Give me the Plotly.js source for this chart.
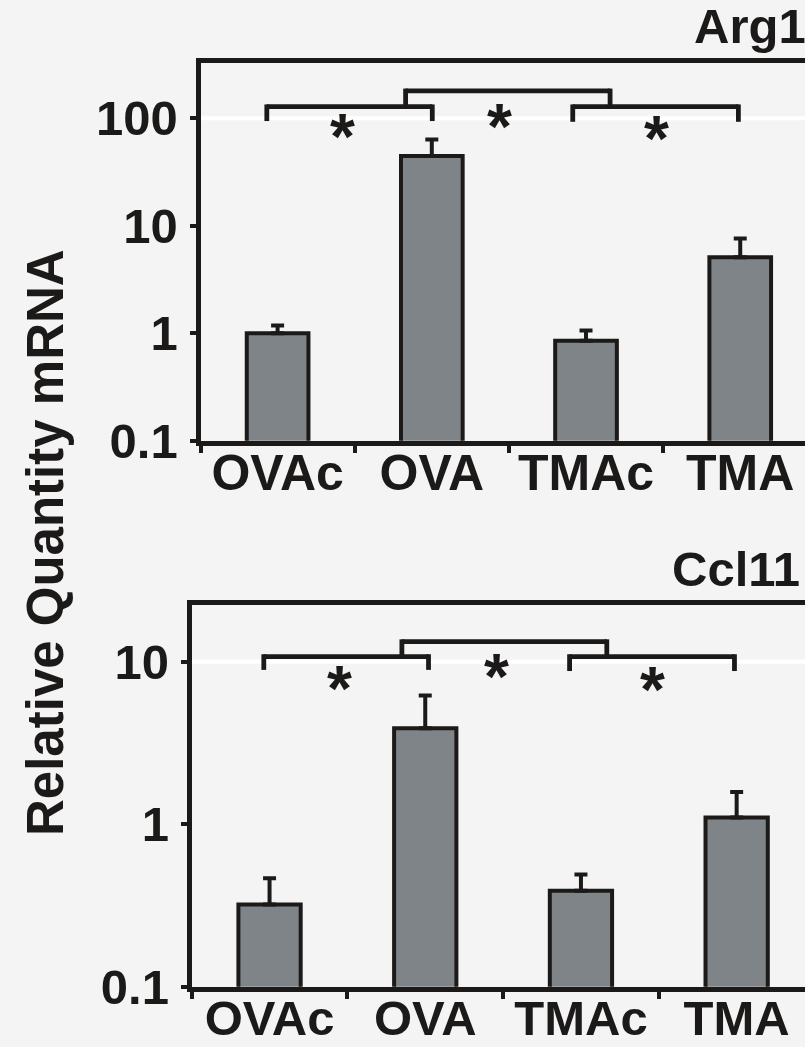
<!DOCTYPE html>
<html>
<head>
<meta charset="utf-8">
<script src="https://cdn.plot.ly/plotly-3.0.1.min.js"></script>
<style>
  html, body { margin: 0; padding: 0; background: #f4f4f4; overflow: hidden; }
  #chart { width: 805px; height: 1047px; }
</style>
</head>
<body>
<div id="chart"></div>
<script>
// ---- data ----
const categories = ["OVAc", "OVA", "TMAc", "TMA"];

const arg1Title = "Arg1";
const arg1Values = [1.0, 44.5, 0.85, 5.1];
const arg1Errors = [0.18, 19, 0.21, 2.5];
const arg1TickVals = [0.1, 1, 10, 100];
const arg1TickText = ["0.1", "1", "10", "100"];

const ccl11Title = "Ccl11";
const ccl11Values = [0.32, 3.9, 0.39, 1.1];
const ccl11Errors = [0.145, 2.3, 0.10, 0.48];
const ccl11TickVals = [0.1, 1, 10];
const ccl11TickText = ["0.1", "1", "10"];

const yTitle = "Relative Quantity mRNA";
const sigMark = "*";

// ---- style ----
const W = 805, H = 1047;
const INK = "#1c1a19";
const BAR = "#7e8487";
const BG = "#f4f4f4";
const FONT = "Liberation Sans, Arial, sans-serif";

function barTrace(vals, errs, xa, ya) {
  return {
    type: "bar",
    x: categories,
    y: vals,
    xaxis: xa, yaxis: ya,
    width: 0.4,
    marker: { color: BAR, line: { color: INK, width: 4 } },
    error_y: {
      type: "data", symmetric: false,
      array: errs, arrayminus: errs.map(() => 0),
      color: INK, thickness: 4, width: 6.5
    },
    hoverinfo: "skip",
    showlegend: false
  };
}

const data = [
  barTrace(arg1Values, arg1Errors, "x", "y"),
  barTrace(ccl11Values, ccl11Errors, "x2", "y2")
];

function xAxis(domainLeftPx, rangeMax, anchor, standoff, fsize) {
  return {
    domain: [domainLeftPx / W, 1],
    anchor: anchor,
    type: "category",
    range: [-0.5, rangeMax],
    showline: true, linecolor: INK, linewidth: 5, mirror: true,
    ticks: "outside", tickson: "boundaries", ticklen: 7, tickwidth: 4, tickcolor: INK,
    ticklabelstandoff: standoff,
    tickfont: { family: FONT, size: fsize, color: INK, weight: "bold" },
    showgrid: false, zeroline: false, fixedrange: true
  };
}
function yAxis(topPx, bottomPx, logMax, tv, tt, anchor) {
  return {
    domain: [(H - bottomPx) / H, (H - topPx) / H],
    anchor: anchor,
    type: "log",
    range: [-1, logMax],
    tickvals: tv, ticktext: tt,
    showline: true, linecolor: INK, linewidth: 5,
    ticks: "outside", ticklen: 6, tickwidth: 4, tickcolor: INK,
    ticklabelstandoff: 2,
    tickfont: { family: FONT, size: 49, color: INK, weight: "bold" },
    showgrid: false, zeroline: false, fixedrange: true
  };
}

// bracket helper: x positions in category units, y in axis-domain fraction
function bracket(xa, ya, x0, x1, yh, yl, lw) {
  const xr = xa, yr = ya + " domain";
  const ext = 0.006;
  const line = { color: INK, width: lw };
  const s = [];
  s.push({ type: "line", xref: xr, yref: yr, x0: x0, x1: x1, y0: yh, y1: yh, line: line, layer: "above" });
  s.push({ type: "line", xref: xr, yref: yr, x0: x0, x1: x0, y0: yh + ext, y1: yl, line: line, layer: "above" });
  s.push({ type: "line", xref: xr, yref: yr, x0: x1, x1: x1, y0: yh + ext, y1: yl, line: line, layer: "above" });
  return s;
}

const shapes = [
  // white reference lines at the top tick
  { type: "line", xref: "x domain", yref: "y", x0: 0, x1: 1, y0: 100, y1: 100, line: { color: "#ffffff", width: 4 }, layer: "below" },
  { type: "line", xref: "x2 domain", yref: "y2", x0: 0, x1: 1, y0: 10, y1: 10, line: { color: "#ffffff", width: 4 }, layer: "below" },
  // top panel brackets
  ...bracket("x", "y", -0.07, 1.003, 0.885, 0.847, 4.8),
  ...bracket("x", "y", 1.914, 2.988, 0.885, 0.845, 4.8),
  ...bracket("x", "y", 0.83, 2.156, 0.927, 0.885, 4.8),
  // bottom panel brackets
  ...bracket("x2", "y2", -0.037, 1.021, 0.865, 0.830, 4.8),
  ...bracket("x2", "y2", 1.927, 2.986, 0.865, 0.827, 4.8),
  ...bracket("x2", "y2", 0.85, 2.166, 0.904, 0.865, 4.8)
];

function star(xa, ya, x, y) {
  return {
    xref: xa, yref: ya + " domain", x: x, y: y,
    text: sigMark, showarrow: false,
    xanchor: "center", yanchor: "middle", yshift: -10,
    font: { family: FONT, size: 64, color: INK, weight: "bold" }
  };
}

const annotations = [
  star("x", "y", 0.42, 0.830),
  star("x", "y", 1.436, 0.858),
  star("x", "y", 2.458, 0.826),
  star("x2", "y2", 0.45, 0.805),
  star("x2", "y2", 1.456, 0.838),
  star("x2", "y2", 2.462, 0.804),
  {
    xref: "paper", yref: "paper", x: 1, y: (H - 26) / H,
    xanchor: "right", yanchor: "middle", xshift: 3, showarrow: false,
    text: arg1Title,
    font: { family: FONT, size: 49, color: INK, weight: "bold" }
  },
  {
    xref: "paper", yref: "paper", x: 1, y: (H - 569) / H,
    xanchor: "right", yanchor: "middle", xshift: -3, showarrow: false,
    text: ccl11Title,
    font: { family: FONT, size: 49, color: INK, weight: "bold" }
  },
  {
    xref: "paper", yref: "paper", x: 45 / W, y: (H - 543) / H,
    xanchor: "center", yanchor: "middle", textangle: -90, showarrow: false,
    text: yTitle,
    font: { family: FONT, size: 51, color: INK, weight: "bold" }
  }
];

const layout = {
  width: W, height: H,
  margin: { l: 0, r: 0, t: 0, b: 0, pad: 0 },
  paper_bgcolor: BG,
  plot_bgcolor: "rgba(0,0,0,0)",
  bargap: 0.6,
  showlegend: false,
  xaxis: xAxis(200.5, 3.42, "y", -16, 50),
  yaxis: yAxis(63.3, 440.7, 2.512, arg1TickVals, arg1TickText, "x"),
  xaxis2: xAxis(191.7, 3.439, "y2", -16, 49),
  yaxis2: yAxis(605, 986.7, 1.349, ccl11TickVals, ccl11TickText, "x2"),
  shapes: shapes,
  annotations: annotations
};

Plotly.newPlot("chart", data, layout, { staticPlot: true, displayModeBar: false });
</script>
</body>
</html>
